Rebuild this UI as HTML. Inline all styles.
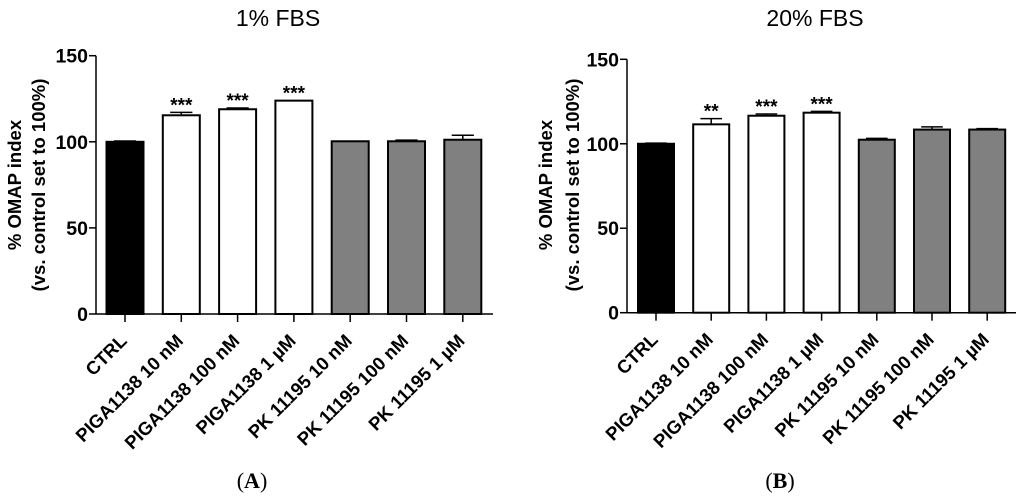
<!DOCTYPE html>
<html><head><meta charset="utf-8"><style>
body{margin:0;background:#fff;}
svg{display:block;font-family:"Liberation Sans",sans-serif;}
</style></head><body>
<svg id="chart" width="1024" height="500" viewBox="0 0 1024 500"></svg>
<script>
const categories=["CTRL","PIGA1138 10 nM","PIGA1138 100 nM","PIGA1138 1 µM","PK 11195 10 nM","PK 11195 100 nM","PK 11195 1 µM"];
const valuesA=[100,115.4,118.9,123.9,100.3,100.3,101.2];
const errorsA=[0.5,1.7,0.7,0,0,0.7,2.6];
const starsA=["","***","***","***","","",""];
const valuesB=[100,111.5,116.6,118.4,102.4,108.4,108.4];
const errorsB=[0.4,3.4,1.0,0.8,0.8,1.6,0.6];
const starsB=["","**","***","***","","",""];
const yTicks=[0,50,100,150];
const fills=["#000","#fff","#fff","#fff","#808080","#808080","#808080"];
const NS="http://www.w3.org/2000/svg";
const svg=document.getElementById('chart');
function mk(tag,attrs,parent,text){const e=document.createElementNS(NS,tag);for(const k in attrs)e.setAttribute(k,attrs[k]);if(text!==undefined)e.textContent=text;(parent||svg).appendChild(e);return e;}
function panel(cfg){
  const g=mk('g',{});
  
  
  const y=v=>cfg.y0-(v/150)*(cfg.y0-cfg.y150);
  const x=i=>cfg.x0+i*cfg.step;
  const t=mk('text',{x:cfg.titleX,y:26,'font-size':23,'text-anchor':'middle',fill:'#000'},g,cfg.title);
  
  
  const yt=mk('text',{transform:`translate(${cfg.ytx},${cfg.yty}) rotate(-90)`,'font-size':18.5,'font-weight':'bold','text-anchor':'middle'},g);
  
  
  mk('tspan',{x:0,y:0},yt,'% OMAP index');
  mk('tspan',{x:0,dy:cfg.ytdy},yt,'(vs. control set to 100%)');
  cfg.vals.forEach((v,i)=>{
    const cx=x(i),w=cfg.bw;
    const top=y(v);
    if(cfg.errs[i]>0){
      const et=y(v+cfg.errs[i]);
      const l=mk('line',{x1:cx,x2:cx,y1:top,y2:et,stroke:'#000','stroke-width':1.5},g);
      
      
      const c=mk('line',{x1:cx-w*0.3,x2:cx+w*0.3,y1:et,y2:et,stroke:'#000','stroke-width':1.5},g);
      
      
    }
    const r=mk('rect',{x:cx-w/2,y:top,width:w,height:cfg.y0-top,fill:fills[i],stroke:'#000','stroke-width':2},g);
    
    
    if(cfg.stars[i]){
      const s=mk('text',{x:cx,y:y(v+cfg.errs[i])-1,'font-size':19,'font-weight':'bold','text-anchor':'middle'},g,cfg.stars[i]);
      
      
    }
    const tk=mk('line',{x1:cx,x2:cx,y1:cfg.y0,y2:cfg.y0+8,stroke:'#000','stroke-width':1.5},g);
    
    
    const lb=mk('text',{transform:`translate(${cx+3},${cfg.y0+28}) rotate(-45)`,'font-size':18.5,'font-weight':'bold','text-anchor':'end'},g,categories[i]);
    
    
  });
  const ax=mk('line',{x1:cfg.ax,x2:cfg.ax,y1:cfg.y150,y2:cfg.y0,stroke:'#000','stroke-width':1.5},g);
  
  
  const xa=mk('line',{x1:cfg.ax,x2:cfg.xend,y1:cfg.y0,y2:cfg.y0,stroke:'#000','stroke-width':1.5},g);
  
  
  yTicks.forEach(v=>{
    const l=mk('line',{x1:cfg.ax-7,x2:cfg.ax,y1:y(v),y2:y(v),stroke:'#000','stroke-width':1.5},g);
    
    
    const tx=mk('text',{x:cfg.ax-8,y:y(v)+7,'font-size':19.5,'font-weight':'bold','text-anchor':'end'},g,v);
    
    
  });
  const p=mk('text',{x:cfg.capX,y:488,'font-size':22,'text-anchor':'middle','font-family':'Liberation Serif,serif'},g);
  
  
  mk('tspan',{},p,'(');mk('tspan',{'font-weight':'bold'},p,cfg.letter);mk('tspan',{},p,')');
}
panel({name:'panel-a',title:'1% FBS',titleX:278,ytx:21,yty:185,ytdy:24,x0:125,step:56.3,bw:37,ax:96,xend:493,y0:314,y150:55.7,vals:valuesA,errs:errorsA,stars:starsA,capX:252,letter:'A'});
panel({name:'panel-b',title:'20% FBS',titleX:815,ytx:552,yty:185,ytdy:27,x0:656,step:55.2,bw:36,ax:627,xend:1016,y0:312.7,y150:59.3,vals:valuesB,errs:errorsB,stars:starsB,capX:780,letter:'B'});
</script>
</body></html>
